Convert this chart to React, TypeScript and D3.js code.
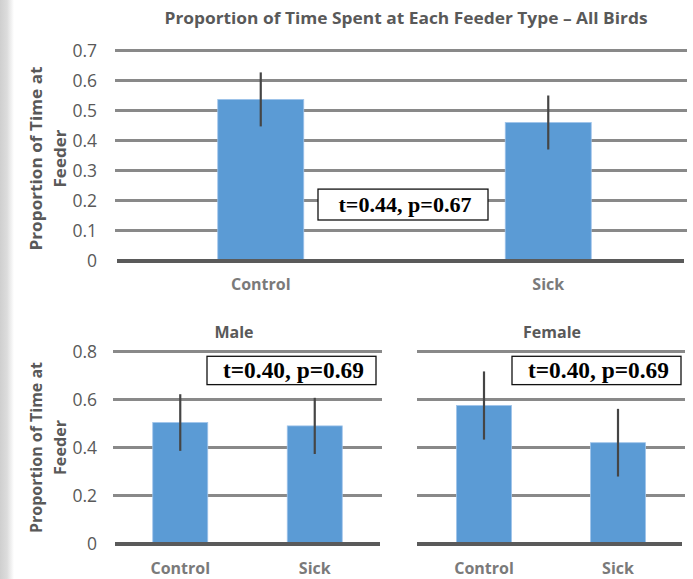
import React from "react";
import * as d3 from "d3";

// ---------- Data ----------
const categories = ["Control", "Sick"];

const allBirdsMeans = [0.537, 0.46];
const allBirdsErrors = [0.09, 0.09];

const maleMeans = [0.504, 0.49];
const maleErrors = [0.118, 0.117];

const femaleMeans = [0.575, 0.42];
const femaleErrors = [0.142, 0.141];

const topTicks = [0, 0.1, 0.2, 0.3, 0.4, 0.5, 0.6, 0.7];
const topTickLabels = ["0", "0.1", "0.2", "0.3", "0.4", "0.5", "0.6", "0.7"];
const bottomTicks = [0, 0.2, 0.4, 0.6, 0.8];
const bottomTickLabels = ["0", "0.2", "0.4", "0.6", "0.8"];

const mainTitle = "Proportion of Time Spent at Each Feeder Type \u2013 All Birds";
const yTitleLines = ["Proportion of Time at", "Feeder"];
const allStat = "t=0.44, p=0.67";
const maleStat = "t=0.40, p=0.69";
const femaleStat = "t=0.40, p=0.69";

// ---------- Styles ----------
const BAR = "#5B9BD5";
const GRID = "#898989";
const AXIS = "#5a5a5a";
const TXT = "#595959";
const CAT = "#7a7a7a";
const ERR = "#454545";
const SANS = "'Open Sans', Lato, sans-serif";
const SERIF = "'Liberation Serif', 'Times New Roman', serif";

type PanelProps = {
  means: number[];
  errors: number[];
  ticks: number[];
  tickLabels: string[];
  xRange: [number, number];
  gridX: [number, number];
  baseX: [number, number];
  yRange: [number, number];
  yMax: number;
  barWidth: number;
  catY: number;
  showTicks: boolean;
  title?: string;
  titleX?: number;
  titleY?: number;
  stat: string;
  statBox: { x: number; w: number; v0: number; v1: number };
  statSize: number;
  statLen: number;
  yTitle?: { cy: number; len: number; len2: number; x1: number; x2: number };
};

function Panel(p: PanelProps) {
  const y = d3.scaleLinear().domain([0, p.yMax]).range(p.yRange);
  const x = d3.scalePoint<string>().domain(categories).range(p.xRange).padding(0.5);
  const by0 = y(p.statBox.v0);
  const by1 = y(p.statBox.v1);
  return (
    <g>
      {p.ticks.map((t, i) =>
        t === 0 ? null : (
          <line key={"g" + i} x1={p.gridX[0]} x2={p.gridX[1]} y1={y(t)} y2={y(t)} stroke={GRID} strokeWidth={3} />
        )
      )}
      {p.showTicks &&
        p.ticks.map((t, i) => (
          <text key={"t" + i} x={97} y={y(t)} dy="0.36em" textAnchor="end" fontFamily={SANS} fontSize={17.5} fill={TXT}>
            {p.tickLabels[i]}
          </text>
        ))}
      {categories.map((c, i) => (
        <rect
          key={"b" + c}
          x={(x(c) as number) - p.barWidth / 2}
          y={y(p.means[i])}
          width={p.barWidth}
          height={y(0) - y(p.means[i])}
          fill={BAR}
          stroke="#9ec4ea"
          strokeWidth={0.8}
        />
      ))}
      <line x1={p.baseX[0]} x2={p.baseX[1]} y1={y(0) + 0.5} y2={y(0) + 0.5} stroke={AXIS} strokeWidth={4} />
      {categories.map((c, i) => (
        <line
          key={"e" + c}
          x1={x(c) as number}
          x2={x(c) as number}
          y1={y(p.means[i] + p.errors[i])}
          y2={y(p.means[i] - p.errors[i])}
          stroke={ERR}
          strokeWidth={2.2}
        />
      ))}
      {categories.map((c) => (
        <text key={"c" + c} x={x(c) as number} y={p.catY} textAnchor="middle" fontFamily={SANS} fontWeight="bold" fontSize={16} fill={CAT}>
          {c}
        </text>
      ))}
      {p.title && (
        <text x={p.titleX} y={p.titleY} textAnchor="middle" fontFamily={SANS} fontWeight="bold" fontSize={16} fill={TXT}>
          {p.title}
        </text>
      )}
      <rect x={p.statBox.x} y={by0} width={p.statBox.w} height={by1 - by0} fill="#fff" stroke="#111" strokeWidth={1.3} />
      <text
        x={p.statBox.x + p.statBox.w / 2 + 2}
        y={(by0 + by1) / 2}
        dy="0.34em"
        textAnchor="middle"
        fontFamily={SERIF}
        fontWeight="bold"
        fontSize={p.statSize}
        fill="#000"
        textLength={p.statLen}
        lengthAdjust="spacingAndGlyphs"
      >
        {p.stat}
      </text>
      {p.yTitle && (
        <g>
          {[p.yTitle.x1, p.yTitle.x2].map((lx, i) => (
            <text
              key={"yt" + i}
              transform={`translate(${lx},${p.yTitle!.cy}) rotate(-90)`}
              textAnchor="middle"
              fontFamily={SANS}
              fontWeight="bold"
              fontSize={16.5}
              fill={TXT}
              textLength={i === 0 ? p.yTitle!.len : p.yTitle!.len2}
              lengthAdjust="spacingAndGlyphs"
            >
              {yTitleLines[i]}
            </text>
          ))}
        </g>
      )}
    </g>
  );
}

export default function App() {
  return (
    <svg
      width={693}
      height={579}
      style={{ position: "absolute", left: 0, top: 0, background: "#fff" }}
    >
      <defs>
        <linearGradient id="edge" x1="0" x2="1" y1="0" y2="0">
          <stop offset="0" stopColor="#cfcfcf" />
          <stop offset="0.5" stopColor="#dcdcdc" />
          <stop offset="1" stopColor="#ffffff" />
        </linearGradient>
      </defs>
      <rect x={0} y={0} width={693} height={579} fill="#fff" />
      <rect x={0} y={0} width={14} height={579} fill="url(#edge)" />

      <text x={406} y={24} textAnchor="middle" fontFamily={SANS} fontWeight="bold" fontSize={16.5} fill={TXT} textLength={483} lengthAdjust="spacingAndGlyphs">
        {mainTitle}
      </text>

      <Panel
        means={allBirdsMeans}
        errors={allBirdsErrors}
        ticks={topTicks}
        tickLabels={topTickLabels}
        xRange={[117, 692]}
        gridX={[115, 687]}
        baseX={[117, 684]}
        yRange={[260.5, 50.5]}
        yMax={0.7}
        barWidth={86}
        catY={290}
        showTicks={true}
        stat={allStat}
        statBox={{ x: 318, w: 170, v0: 0.238, v1: 0.135 }}
        statSize={21.5}
        statLen={133}
        yTitle={{ cy: 158.5, len: 184, len2: 58, x1: 42, x2: 66 }}
      />
      <Panel
        means={maleMeans}
        errors={maleErrors}
        ticks={bottomTicks}
        tickLabels={bottomTickLabels}
        xRange={[113, 382]}
        gridX={[113, 382]}
        baseX={[115, 380]}
        yRange={[543.5, 351.5]}
        yMax={0.8}
        barWidth={55}
        catY={574}
        showTicks={true}
        title="Male"
        titleX={234}
        titleY={338}
        stat={maleStat}
        statBox={{ x: 207, w: 169, v0: 0.78, v1: 0.662 }}
        statSize={22.5}
        statLen={141}
        yTitle={{ cy: 447.5, len: 171, len2: 55, x1: 42, x2: 66 }}
      />
      <Panel
        means={femaleMeans}
        errors={femaleErrors}
        ticks={bottomTicks}
        tickLabels={bottomTickLabels}
        xRange={[417, 685]}
        gridX={[417, 685]}
        baseX={[417, 682]}
        yRange={[543.5, 351.5]}
        yMax={0.8}
        barWidth={55}
        catY={574}
        showTicks={false}
        title="Female"
        titleX={552}
        titleY={338}
        stat={femaleStat}
        statBox={{ x: 512, w: 169, v0: 0.78, v1: 0.662 }}
        statSize={22.5}
        statLen={141}
      />
    </svg>
  );
}
